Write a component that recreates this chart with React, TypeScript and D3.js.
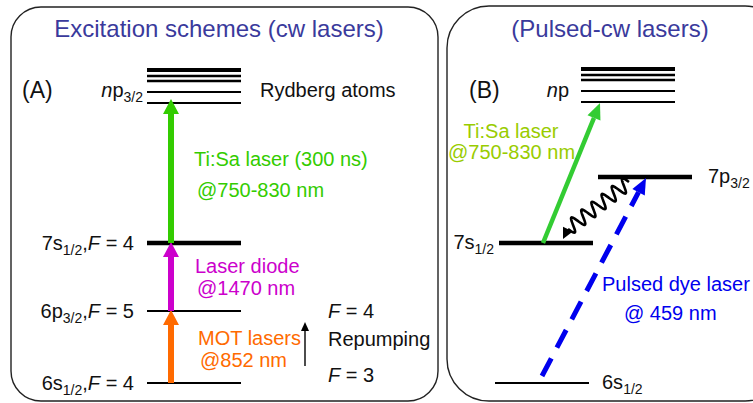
import React from "react";
import * as d3 from "d3";

// ---- data ----
// Energy levels, in diagram units (0 = ground state)
const levelsA = [
  { key: "6s", energy: 0, label: ["6s", "1/2", ",", "F", " = 4"], width: 2 },
  { key: "6p", energy: 72, label: ["6p", "3/2", ",", "F", " = 5"], width: 2 },
  { key: "7s", energy: 140, label: ["7s", "1/2", ",", "F", " = 4"], width: 4.5 },
];
const rydbergEnergies = [280, 291, 302, 307, 313];
const rydbergWidths = [2, 2, 2.5, 2.5, 4];
const levelsB = [
  { key: "6s", energy: 0, label: ["6s", "1/2"], width: 2, x0: 495, x1: 589 },
  { key: "7s", energy: 140, label: ["7s", "1/2"], width: 4.5, x0: 499, x1: 593 },
  { key: "7p", energy: 206, label: ["7p", "3/2"], width: 4.5, x0: 598, x1: 692 },
];
const transitionsA = [
  { from: 0, to: 72, color: "#ff6a00", lines: ["MOT lasers", "@852 nm"] },
  { from: 72, to: 140, color: "#cc00cc", lines: ["Laser diode", "@1470 nm"] },
  { from: 140, to: 280, color: "#33cc00", lines: ["Ti:Sa laser (300 ns)", "@750-830 nm"] },
];

const y = d3.scaleLinear().domain([0, 280]).range([383, 103]);

const FONT = "Liberation Sans, Arial, Helvetica, sans-serif";
const FS = 20;
const SUB = 14;

function arrowHead(x1: number, y1: number, x2: number, y2: number, len: number, half: number) {
  const a = Math.atan2(y2 - y1, x2 - x1);
  const bx = x2 - len * Math.cos(a);
  const by = y2 - len * Math.sin(a);
  const nx = -Math.sin(a), ny = Math.cos(a);
  const p = d3.path();
  p.moveTo(x2, y2);
  p.lineTo(bx + nx * half, by + ny * half);
  p.lineTo(bx - nx * half, by - ny * half);
  p.closePath();
  return { d: p.toString(), bx, by };
}

function Arrow({ x1, y1, x2, y2, color, w, len, half, dash }: any) {
  const h = arrowHead(x1, y1, x2, y2, len, half);
  return (
    <g>
      <line x1={x1} y1={y1} x2={h.bx} y2={h.by} stroke={color} strokeWidth={w} strokeDasharray={dash} />
      <path d={h.d} fill={color} />
    </g>
  );
}

function Sub({ parts, x, y: yy, anchor }: any) {
  return (
    <text x={x} y={yy} textAnchor={anchor} fontFamily={FONT} fontSize={FS} fill="#111">
      {parts[0]}
      <tspan fontSize={SUB} dy={5}>{parts[1]}</tspan>
      {parts.length > 2 && <tspan dy={-5}>{parts[2]}</tspan>}
      {parts.length > 3 && <tspan fontStyle="italic">{parts[3]}</tspan>}
      {parts.length > 4 && <tspan>{parts[4]}</tspan>}
    </text>
  );
}

function wavyPath(xs: number, ys: number, xe: number, ye: number, periods: number, amp: number) {
  const dx = xe - xs, dy = ye - ys;
  const L = Math.hypot(dx, dy);
  const ux = dx / L, uy = dy / L;
  const nx = -uy, ny = ux;
  const pts: [number, number][] = d3.range(0, 1.0001, 0.005).map((t) => {
    const s = Math.sin(t * periods * 2 * Math.PI) * amp;
    return [xs + ux * L * t + nx * s, ys + uy * L * t + ny * s];
  });
  return d3.line()(pts) as string;
}

export default function App() {
  const ax0 = 147, ax1 = 241, axArrow = 171;
  const wav = wavyPath(629, 182, 568, 229, 6, 7);
  const wh = arrowHead(568, 229, 563, 239, 11, 5.5);
  return (
    <svg width={753} height={403} style={{ position: "absolute", left: 0, top: 0, background: "#fff" }}>
      {/* panels */}
      <rect x={11} y={7} width={427} height={394} rx={30} ry={30} fill="none" stroke="#222" strokeWidth={1.4} />
      <rect x={447} y={6} width={340} height={395} rx={42} ry={42} fill="none" stroke="#222" strokeWidth={1.4} />

      <text x={219} y={37} textAnchor="middle" fontFamily={FONT} fontSize={24} fill="#3a3a9c">Excitation schemes (cw lasers)</text>
      <text x={610} y={37} textAnchor="middle" fontFamily={FONT} fontSize={24} fill="#3a3a9c">(Pulsed-cw lasers)</text>

      {/* Panel A */}
      <text x={22} y={98} fontFamily={FONT} fontSize={23} fill="#111">(A)</text>
      {rydbergEnergies.map((e, i) => (
        <line key={"ra" + i} x1={ax0} x2={ax1} y1={y(e)} y2={y(e)} stroke="#000" strokeWidth={rydbergWidths[i]} />
      ))}
      <text x={143} y={97} textAnchor="end" fontFamily={FONT} fontSize={FS} fill="#111">
        <tspan fontStyle="italic">n</tspan>p<tspan fontSize={SUB} dy={5}>3/2</tspan>
      </text>
      <text x={260} y={97} fontFamily={FONT} fontSize={FS} fill="#111">Rydberg atoms</text>

      {levelsA.map((l) => (
        <g key={l.key}>
          <line x1={ax0} x2={ax1} y1={y(l.energy)} y2={y(l.energy)} stroke="#000" strokeWidth={l.width} />
          <Sub parts={l.label} x={134} y={y(l.energy) + 7} anchor="end" />
        </g>
      ))}

      {transitionsA.map((t, i) => (
        <Arrow key={"ta" + i} x1={axArrow} y1={y(t.from)} x2={axArrow} y2={y(t.to) - (i === 2 ? 4 : 1)} color={t.color} w={6} len={15} half={8} />
      ))}
      {/* transition labels */}
      <text x={194} y={166} fontFamily={FONT} fontSize={FS} fill="#33cc00">{transitionsA[2].lines[0]}</text>
      <text x={197} y={197} fontFamily={FONT} fontSize={FS} fill="#33cc00">{transitionsA[2].lines[1]}</text>
      <text x={195} y={273} fontFamily={FONT} fontSize={FS} fill="#cc00cc">{transitionsA[1].lines[0]}</text>
      <text x={197} y={295} fontFamily={FONT} fontSize={FS} fill="#cc00cc">{transitionsA[1].lines[1]}</text>
      <text x={198} y={345} fontFamily={FONT} fontSize={FS} fill="#ff6a00">{transitionsA[0].lines[0]}</text>
      <text x={200} y={367} fontFamily={FONT} fontSize={FS} fill="#ff6a00">{transitionsA[0].lines[1]}</text>

      {/* repumping */}
      <Arrow x1={305} y1={366} x2={305} y2={322} color="#000" w={1.4} len={9} half={4} />
      <text x={328} y={318} fontFamily={FONT} fontSize={FS} fill="#111"><tspan fontStyle="italic">F</tspan> = 4</text>
      <text x={328} y={346} fontFamily={FONT} fontSize={FS} fill="#111">Repumping</text>
      <text x={328} y={382} fontFamily={FONT} fontSize={FS} fill="#111"><tspan fontStyle="italic">F</tspan> = 3</text>

      {/* Panel B */}
      <text x={469} y={98} fontFamily={FONT} fontSize={23} fill="#111">(B)</text>
      {rydbergEnergies.map((e, i) => (
        <line key={"rb" + i} x1={581} x2={675} y1={y(e) - 1} y2={y(e) - 1} stroke="#000" strokeWidth={rydbergWidths[i]} />
      ))}
      <text x={569} y={97} textAnchor="end" fontFamily={FONT} fontSize={FS} fill="#111">
        <tspan fontStyle="italic">n</tspan>p
      </text>
      {levelsB.map((l) => (
        <g key={"b" + l.key}>
          <line x1={l.x0} x2={l.x1} y1={y(l.energy)} y2={y(l.energy)} stroke="#000" strokeWidth={l.width} />
        </g>
      ))}
      <Sub parts={levelsB[1].label} x={494} y={y(140) + 6} anchor="end" />
      <Sub parts={levelsB[2].label} x={708} y={y(206) + 6} anchor="start" />
      <Sub parts={levelsB[0].label} x={602} y={y(0) + 6} anchor="start" />

      <Arrow x1={543} y1={y(140)} x2={600} y2={y(280)} color="#33cc33" w={4.5} len={16} half={7} />
      <text x={511} y={138} textAnchor="middle" fontFamily={FONT} fontSize={FS} fill="#99cc00">Ti:Sa laser</text>
      <text x={448} y={159} fontFamily={FONT} fontSize={FS} fill="#99cc00">@750-830 nm</text>

      <Arrow x1={542} y1={376} x2={646} y2={178} color="#0000ee" w={5} len={16} half={7} dash="20 12" />
      <text x={602} y={291} fontFamily={FONT} fontSize={FS} fill="#0000ee">Pulsed dye laser</text>
      <text x={624} y={320} fontFamily={FONT} fontSize={FS} fill="#0000ee">@ 459 nm</text>

      <path d={wav} fill="none" stroke="#000" strokeWidth={2.6} />
      <path d={wh.d} fill="#000" />
    </svg>
  );
}
